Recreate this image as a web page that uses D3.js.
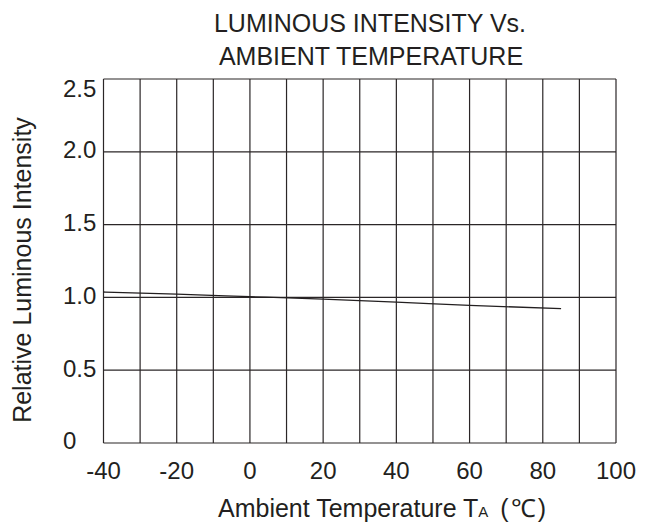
<!DOCTYPE html>
<html>
<head>
<meta charset="utf-8">
<script src="https://cdn.jsdelivr.net/npm/d3@7"></script>
<style>
  body { margin: 0; background: #fff; }
  text { font-family: "Liberation Sans", Arial, sans-serif; fill: #231f20; }
</style>
</head>
<body>
<script>
// chart data
var temps = [-40, -20, 0, 20, 40, 60, 85];
var intensity = [1.037, 1.022, 1.005, 0.988, 0.968, 0.945, 0.923];
var xTicks = [-40, -20, 0, 20, 40, 60, 80, 100];
var yTicks = ["0", "0.5", "1.0", "1.5", "2.0", "2.5"];
var xGrid = d3.range(-40, 101, 10);
var yGrid = d3.range(0, 2.51, 0.5);

var width = 645, height = 522;
var svg = d3.select("body").append("svg")
  .attr("width", width)
  .attr("height", height);

var x = d3.scaleLinear().domain([-40, 100]).range([103.5, 616]);
var y = d3.scaleLinear().domain([0, 2.5]).range([443, 79]);

// grid
svg.append("g").selectAll("line").data(xGrid).enter().append("line")
  .attr("x1", function(d) { return x(d); })
  .attr("x2", function(d) { return x(d); })
  .attr("y1", y(0)).attr("y2", y(2.5))
  .attr("stroke", "#2b2627").attr("stroke-width", 1.2);

svg.append("g").selectAll("line").data(yGrid).enter().append("line")
  .attr("y1", function(d) { return y(d); })
  .attr("y2", function(d) { return y(d); })
  .attr("x1", x(-40)).attr("x2", x(100))
  .attr("stroke", "#2b2627").attr("stroke-width", 1.2);

// curve
var line = d3.line()
  .x(function(d, i) { return x(temps[i]); })
  .y(function(d) { return y(d); })
  .curve(d3.curveMonotoneX);

svg.append("path").datum(intensity)
  .attr("d", line)
  .attr("fill", "none")
  .attr("stroke", "#231f20")
  .attr("stroke-width", 1.3);

// tick labels
svg.append("g").selectAll("text").data(xTicks).enter().append("text")
  .attr("x", function(d) { return x(d); })
  .attr("y", 479)
  .attr("text-anchor", "middle")
  .attr("font-size", 24)
  .text(function(d) { return d; });

svg.append("g").selectAll("text").data(yTicks).enter().append("text")
  .attr("x", 63)
  .attr("y", function(d) { return Math.max(y(+d) - 2, 89); })
  .attr("dy", "0.35em")
  .attr("font-size", 24)
  .text(function(d) { return d; });

// titles
svg.append("text").attr("x", 370).attr("y", 31.5)
  .attr("text-anchor", "middle").attr("font-size", 25)
  .text("LUMINOUS INTENSITY Vs.");
svg.append("text").attr("x", 371).attr("y", 65)
  .attr("text-anchor", "middle").attr("font-size", 25)
  .text("AMBIENT TEMPERATURE");

var xl = svg.append("text").attr("x", 218).attr("y", 516.5).attr("font-size", 25);
xl.append("tspan").text("Ambient Temperature T");
xl.append("tspan").attr("font-size", 15).text("A");
xl.append("tspan").attr("dx", 12).text("(");
xl.append("tspan").attr("dx", 2).text("\u2103");
xl.append("tspan").attr("dx", 2).text(")");

svg.append("text")
  .attr("transform", "translate(31,270) rotate(-90)")
  .attr("text-anchor", "middle")
  .attr("font-size", 25)
  .text("Relative Luminous Intensity");
</script>
</body>
</html>
